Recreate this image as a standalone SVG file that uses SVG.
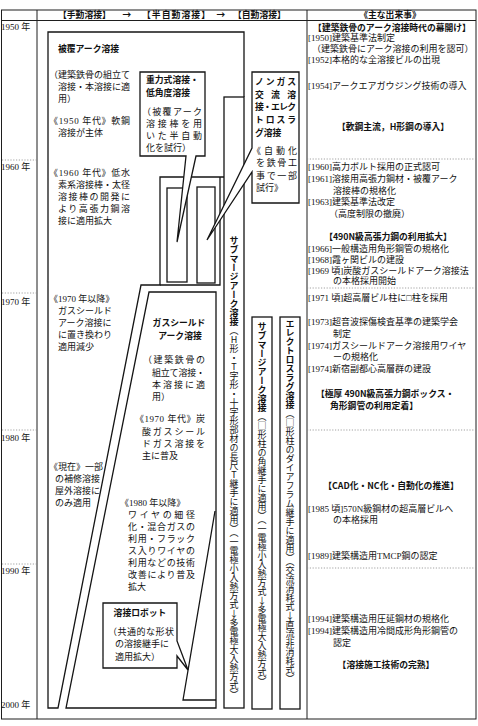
<svg xmlns="http://www.w3.org/2000/svg" width="478" height="726" viewBox="0 0 478 726">
<defs><style>
.tb{fill:none;stroke:#1e1e1e;stroke-width:1}
.dt{fill:none;stroke:#8a8a8a;stroke-width:0.8;stroke-dasharray:1.2 1.6}
.ln{fill:none;stroke:#151515;stroke-width:1.3}
.bx{fill:#fff;stroke:#151515;stroke-width:1.3}
text{fill:#111}
.m{font-family:"Liberation Serif","Noto Sans CJK JP",serif;font-size:9px}
.g{font-family:"Noto Sans CJK JP","Noto Sans",sans-serif;font-size:8.8px;font-weight:700}
.v{font-family:"Noto Sans CJK JP",sans-serif;font-size:9px;writing-mode:vertical-rl;text-orientation:upright}
.vb{font-weight:700}
.c{text-anchor:middle}
</style></defs>
<rect width="478" height="726" fill="#fff"/>

<g id="table">
<rect class="tb" x="1.5" y="10" width="474.5" height="709"/>
<line class="tb" x1="1.5" y1="20.5" x2="476" y2="20.5"/>
<line class="tb" x1="37" y1="10" x2="37" y2="719"/>
<line class="tb" x1="307" y1="10" x2="307" y2="719"/>
<line class="dt" x1="2" y1="160" x2="37" y2="160"/>
<line class="dt" x1="2" y1="293" x2="37" y2="293"/>
<line class="dt" x1="2" y1="430" x2="37" y2="430"/>
<line class="dt" x1="2" y1="564" x2="37" y2="564"/>
<line class="dt" x1="307" y1="159" x2="476" y2="159"/>
<line class="dt" x1="307" y1="288" x2="476" y2="288"/>
<line class="dt" x1="307" y1="430" x2="476" y2="430"/>
<line class="dt" x1="307" y1="568" x2="476" y2="568"/>
<text class="g" x="58" y="17.8" font-size="9">【手動溶接】</text>
<text class="g c" x="127" y="17.8">→</text>
<text class="g" x="142" y="17.8" font-size="9" textLength="68">【半自動溶接】</text>
<text class="g c" x="221" y="17.8">→</text>
<text class="g" x="233" y="17.8" font-size="9">【自動溶接】</text>
<text class="g c" x="390" y="17.8" font-size="8.6">《主な出来事》</text>
<text class="m" x="1" y="29.5" font-size="9.5">1950 年</text>
<text class="m" x="1" y="170" font-size="9.5">1960 年</text>
<text class="m" x="1" y="305" font-size="9.5">1970 年</text>
<text class="m" x="1" y="440.5" font-size="9.5">1980 年</text>
<text class="m" x="1" y="574" font-size="9.5">1990 年</text>
<text class="m" x="1" y="708" font-size="9.5">2000 年</text>
</g>

<g id="node-manual">
<path class="ln" d="M244,97 V32 H48 V708 H58 L141,285 H160 V177 H224"/>
<text class="g" x="58" y="52">被覆アーク溶接</text>
<text class="m" x="49" y="78">（建築鉄骨の組立て</text>
<text class="m" x="58" y="90">溶接・本溶接に適</text>
<text class="m" x="58" y="102">用）</text>
<text class="m" x="49" y="124" textLength="81">《1950 年代》軟鋼</text>
<text class="m" x="58" y="136">溶接が主体</text>
<text class="m" x="49" y="176" textLength="81">《1960 年代》低水</text>
<text class="m" x="58" y="188">素系溶接棒・太径</text>
<text class="m" x="58" y="200" textLength="72">溶接棒の開発に</text>
<text class="m" x="58" y="212" textLength="72">より高張力鋼溶</text>
<text class="m" x="58" y="224">接に適用拡大</text>
<text class="m" x="49" y="302">《1970 年以降》</text>
<text class="m" x="58" y="314">ガスシールド</text>
<text class="m" x="58" y="326">アーク溶接に</text>
<text class="m" x="58" y="338">に置き換わり</text>
<text class="m" x="58" y="350">適用減少</text>
<text class="m" x="49" y="470">《現在》一部</text>
<text class="m" x="55" y="482">の補修溶接</text>
<text class="m" x="55" y="494">屋外溶接に</text>
<text class="m" x="55" y="506">のみ適用</text>
</g>

<g id="node-semiauto-trial">
<path class="ln" d="M220,177 V285 H160"/>
<rect class="ln" x="167" y="188" width="20" height="94"/>
<rect class="ln" x="197" y="187" width="18" height="96"/>
</g>

<g id="node-saw-h">
<rect class="ln" x="224" y="97" width="20" height="611"/>
<text class="v" x="234" y="236" font-size="8.6"><tspan class="vb">サブマージアーク溶接</tspan>（H形・T字形・十字形部材の長尺T継手に適用）（一電極小入熱方式↓多電極大入熱方式）</text>
</g>

<g id="node-saw-box">
<rect class="ln" x="252" y="317" width="20" height="392"/>
<text class="v" x="262" y="322" font-size="8.75"><tspan class="vb">サブマージアーク溶接</tspan>（□形柱の角継手に適用）（一電極小入熱方式↓多電極大入熱方式）</text>
</g>

<g id="node-esw">
<rect class="ln" x="280" y="317" width="20" height="392"/>
<text class="v" x="290" y="319" font-size="9.1"><tspan class="vb">エレクトロスラグ溶接</tspan>（□形柱のダイアフラム継手に適用）（交流消耗式↓直流非消耗式）</text>
</g>

<g id="node-gasshield">
<path class="ln" d="M149,292 H216 V708 H66 Z"/>
<text class="g c" x="179" y="326" font-size="8.5">ガスシールド</text>
<text class="g c" x="180" y="339" font-size="8.5">アーク溶接</text>
<text class="m" x="143" y="363" textLength="62">（建築鉄骨の</text>
<text class="m" x="152" y="376" textLength="53">組立て溶接・</text>
<text class="m" x="152" y="388" textLength="53">本溶接に適</text>
<text class="m" x="152" y="400">用）</text>
<text class="m" x="135" y="422" textLength="70">《1970 年代》炭</text>
<text class="m" x="142" y="435" textLength="63">酸ガスシール</text>
<text class="m" x="142" y="447" textLength="63">ドガス溶接を</text>
<text class="m" x="142" y="459">主に普及</text>
<text class="m" x="120" y="506">《1980 年以降》</text>
<text class="m" x="128" y="518" textLength="67">ワイヤの細径</text>
<text class="m" x="128" y="530" textLength="67">化・混合ガスの</text>
<text class="m" x="128" y="542" textLength="67">利用・フラック</text>
<text class="m" x="128" y="554" textLength="67">ス入りワイヤの</text>
<text class="m" x="128" y="566" textLength="67">利用などの技術</text>
<text class="m" x="128" y="578" textLength="67">改善により普及</text>
<text class="m" x="128" y="590">拡大</text>
</g>

<g id="node-robot">
<path class="ln" d="M215,511 L183,700 H216"/>
<path class="bx" d="M103,603 H177 V641 L188,670 L177,656 V668 H103 Z"/>
<text class="g c" x="140" y="616">溶接ロボット</text>
<text class="m" x="108" y="635" textLength="66">（共通的な形状</text>
<text class="m" x="115" y="647">の溶接継手に</text>
<text class="m" x="115" y="660">適用拡大）</text>
</g>

<g id="node-gravity">
<path class="bx" d="M140,72 H205 V156 H196 L177,242 L186,156 H140 Z"/>
<text class="g" x="146" y="83">重力式溶接・</text>
<text class="g" x="146" y="96">低角度溶接</text>
<text class="m" x="142" y="115" textLength="60">（被覆アーク</text>
<text class="m" x="146" y="127" textLength="56">溶接棒を用</text>
<text class="m" x="146" y="139" textLength="56">いた半自動</text>
<text class="m" x="146" y="151">化を試行）</text>
</g>

<g id="node-nongas">
<path class="bx" d="M252,72 H299 V203 H252 V172 L207,240 L252,148 Z"/>
<text class="g" x="255" y="85" textLength="41">ノンガス</text>
<text class="g" x="255" y="98" textLength="41">交流溶</text>
<text class="g" x="255" y="110" textLength="41">接・エレク</text>
<text class="g" x="255" y="123" textLength="41">トロスラ</text>
<text class="g" x="255" y="136">グ溶接</text>
<text class="m" x="252" y="154" textLength="45">《自動化</text>
<text class="m" x="256" y="166" textLength="41">を鉄骨工</text>
<text class="m" x="256" y="179" textLength="41">事で一部</text>
<text class="m" x="256" y="191">試行》</text>
</g>

<g id="connectors"></g>

<g id="events">
<text class="g c" x="392" y="30.6" font-size="8.6">【建築鉄骨のアーク溶接時代の幕開け】</text>
<text class="m" x="308" y="41">[1950]建築基準法制定</text>
<text class="m" x="312" y="52">（建築鉄骨にアーク溶接の利用を認可）</text>
<text class="m" x="308" y="63">[1952]本格的な全溶接ビルの出現</text>
<text class="m" x="308" y="89">[1954]アークエアガウジング技術の導入</text>
<text class="g c" x="393" y="130" font-size="8.6">【軟鋼主流，H形鋼の導入】</text>
<text class="m" x="308" y="170">[1960]高力ボルト採用の正式認可</text>
<text class="m" x="308" y="182">[1961]溶接用高張力鋼材・被覆アーク</text>
<text class="m" x="333" y="194">溶接棒の規格化</text>
<text class="m" x="308" y="205">[1963]建築基準法改定</text>
<text class="m" x="329" y="217">（高度制限の撤廃）</text>
<text class="g c" x="388" y="240" font-size="8.6">【490N級高張力鋼の利用拡大】</text>
<text class="m" x="308" y="252">[1966]一般構造用角形鋼管の規格化</text>
<text class="m" x="308" y="263">[1968]霞ヶ関ビルの建設</text>
<text class="m" x="308" y="274">[1969 頃]炭酸ガスシールドアーク溶接法</text>
<text class="m" x="333" y="284">の本格採用開始</text>
<text class="m" x="308" y="301">[1971 頃]超高層ビル柱に□柱を採用</text>
<text class="m" x="308" y="325">[1973]超音波探傷検査基準の建築学会</text>
<text class="m" x="333" y="337">制定</text>
<text class="m" x="308" y="349">[1974]ガスシールドアーク溶接用ワイヤ</text>
<text class="m" x="333" y="360">ーの規格化</text>
<text class="m" x="308" y="372">[1974]新宿副都心高層群の建設</text>
<text class="g" x="316" y="397" font-size="8.6">【極厚 490N級高張力鋼ボックス・</text>
<text class="g" x="330" y="409" font-size="8.6">角形鋼管の利用定着】</text>
<text class="g c" x="391" y="489" font-size="8.6">【CAD化・NC化・自動化の推進】</text>
<text class="m" x="308" y="512">[1985 頃]570N級鋼材の超高層ビルへ</text>
<text class="m" x="333" y="523">の本格採用</text>
<text class="m" x="308" y="559">[1989]建築構造用TMCP鋼の認定</text>
<text class="m" x="308" y="622">[1994]建築構造用圧延鋼材の規格化</text>
<text class="m" x="308" y="634">[1994]建築構造用冷間成形角形鋼管の</text>
<text class="m" x="333" y="646">認定</text>
<text class="g c" x="386" y="668" font-size="8.6">【溶接施工技術の完熟】</text>
</g>
</svg>
